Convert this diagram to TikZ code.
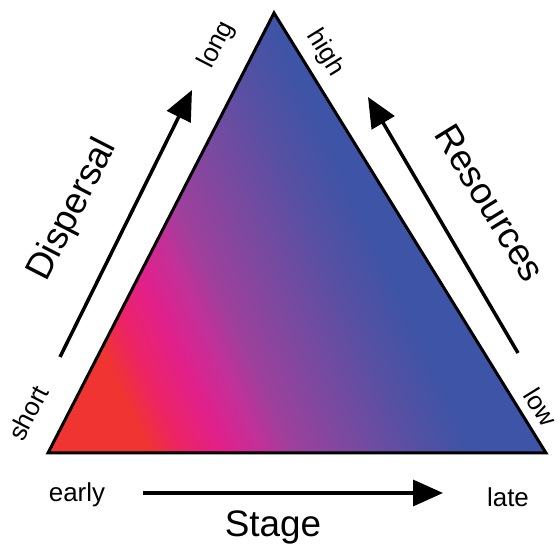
\documentclass[tikz,border=0pt]{standalone}
\usepackage{fontspec}
\setmainfont{Liberation Sans}
\usetikzlibrary{arrows.meta}
\definecolor{cRed}{RGB}{240,52,50}
\definecolor{cPinkRed}{RGB}{236,36,100}
\definecolor{cMag}{RGB}{225,32,140}
\definecolor{cPurMag}{RGB}{195,48,152}
\definecolor{cPur}{RGB}{158,64,156}
\definecolor{cVio}{RGB}{120,74,160}
\definecolor{cBlueVio}{RGB}{88,80,163}
\definecolor{cBlue}{RGB}{62,84,166}
\pgfdeclarehorizontalshading{trishade}{100bp}{color(0bp)=(cRed); color(26.5bp)=(cRed); color(29.5bp)=(cPinkRed); color(33.5bp)=(cMag); color(37bp)=(cPurMag); color(40bp)=(cPur); color(46bp)=(cVio); color(51.5bp)=(cBlueVio); color(57bp)=(cBlue); color(100bp)=(cBlue)}
\tikzset{
  lbl/.style={font=\fontsize{26}{30}\selectfont, inner sep=0pt},
  axislbl/.style={font=\fontsize{37}{42}\selectfont, inner sep=0pt},
  axarrow/.style={line width=3.5bp, -{Triangle[length=30bp,width=26bp]}},
  tri/.style={draw=black, line width=3bp, line join=miter, shading=trishade, shading angle=25}
}
\begin{document}
\begin{tikzpicture}[x=1bp,y=1bp]
\useasboundingbox (0,0) rectangle (560,560);
\coordinate (A) at (48,107);
\coordinate (B) at (274,547);
\coordinate (C) at (546,107);
\path[tri] (A) -- (B) -- (C) -- cycle;
% arrows
\coordinate (d0) at (60,203);
\coordinate (d1) at (192,470);
\coordinate (r0) at (518,207);
\coordinate (r1) at (368,463);
\coordinate (s0) at (143,67);
\coordinate (s1) at (443,67);
\draw[axarrow] (d0) -- (d1);
\draw[axarrow] (r0) -- (r1);
\draw[axarrow] (s0) -- (s1);
% labels
\node[lbl] (early) at (77,65) {early};
\node[lbl] (late) at (508,63) {late};
\node[axislbl] (stage) at (273,33) {Stage};
\node[lbl, rotate=62.8] (short) at (28,147) {short};
\node[lbl, rotate=62.8] (long) at (217,515) {long};
\node[lbl, rotate=-58.3] (high) at (325,507) {high};
\node[lbl, rotate=-58.3] (low) at (541,153) {low};
\node[axislbl, rotate=62.8] (disp) at (73,350) {Dispersal};
\node[axislbl, rotate=-58.3] (res) at (490,357) {Resources};
\end{tikzpicture}
\end{document}
